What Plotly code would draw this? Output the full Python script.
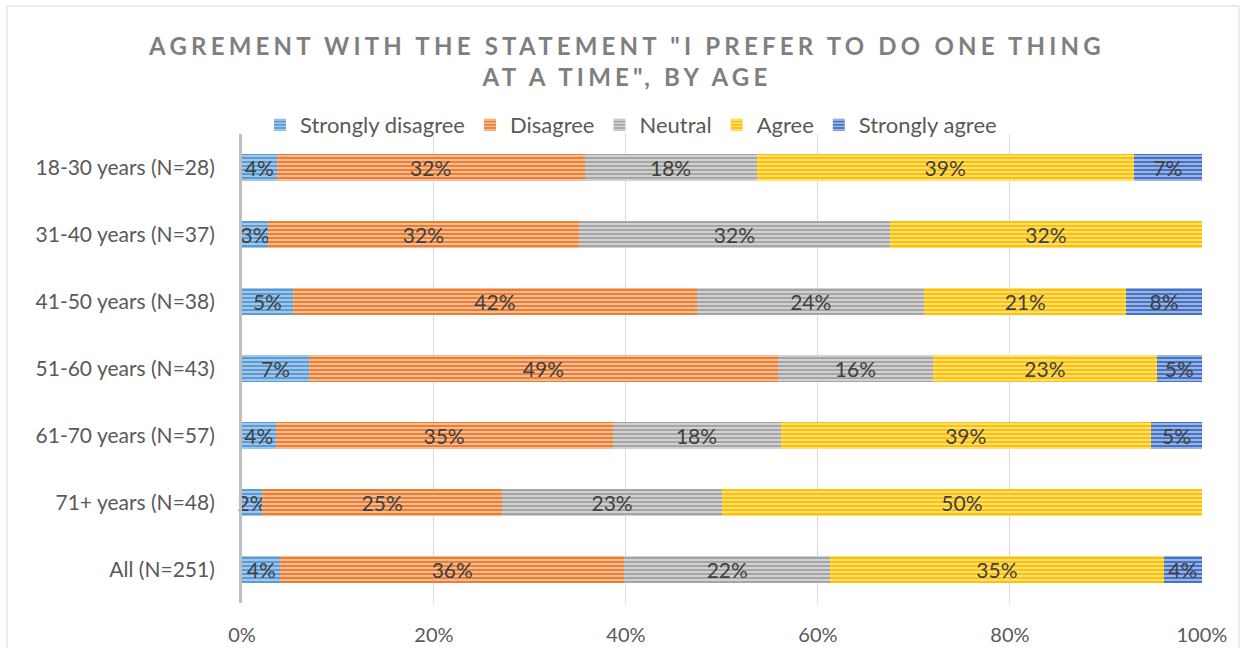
import plotly.graph_objects as go

# Share of respondents (%) per answer, by age group
age_groups = [
    "18-30 years (N=28)",
    "31-40 years (N=37)",
    "41-50 years (N=38)",
    "51-60 years (N=43)",
    "61-70 years (N=57)",
    "71+ years (N=48)",
    "All (N=251)",
]
strongly_disagree = [3.6, 2.7, 5.3, 7.0, 3.5, 2.1, 4.0]
disagree = [32.1, 32.4, 42.1, 48.8, 35.1, 25.0, 35.8]
neutral = [17.9, 32.4, 23.7, 16.2, 17.5, 22.9, 21.5]
agree = [39.3, 32.5, 21.0, 23.3, 38.6, 50.0, 34.7]
strongly_agree = [7.1, 0.0, 7.9, 4.7, 5.3, 0.0, 4.0]
x_ticks = [0, 20, 40, 60, 80, 100]

series = [
    ("Strongly disagree", strongly_disagree, "#5B9BD5", "#A9CCEC"),
    ("Disagree", disagree, "#ED7D31", "#F8C4A2"),
    ("Neutral", neutral, "#A5A5A5", "#D6D6D6"),
    ("Agree", agree, "#FFC000", "#FFE38A"),
    ("Strongly agree", strongly_agree, "#4472C4", "#A6BCE6"),
]

FONT = "Lato"
TEXT_GREY = "#595959"

W, H = 1244, 648
ML, MR, MT, MB = 242, 42, 134, 45
PW, PH = W - ML - MR, H - MT - MB

fig = go.Figure()
for name, vals, base, stripe in series:
    fig.add_trace(go.Bar(
        y=age_groups,
        x=vals,
        name=name,
        orientation="h",
        marker=dict(
            color=base,
            line=dict(width=0),
            pattern=dict(shape="-", bgcolor=base, fgcolor=stripe,
                         size=4, solidity=0.45, fillmode="replace"),
        ),
        text=[f"{v:.0f}%" if v > 0 else "" for v in vals],
        textposition="inside",
        insidetextanchor="middle",
        constraintext="none",
        textangle=0,
        cliponaxis=False,
        textfont=dict(family=FONT, size=21, color="#404040"),
        hoverinfo="skip",
    ))

fig.update_layout(
    width=W, height=H,
    barmode="stack",
    bargap=0.6,
    paper_bgcolor="white",
    plot_bgcolor="white",
    margin=dict(l=ML, r=MR, t=MT, b=MB, autoexpand=False),
    font=dict(family=FONT, size=20, color=TEXT_GREY),
    title=dict(
        text="AGREMENT WITH THE STATEMENT \"I PREFER TO DO ONE THING<br>AT A TIME\", BY AGE",
        x=627 / W, xref="container", xanchor="center",
        y=1 - 55 / H, yref="container", yanchor="middle",
        font=dict(family=FONT, size=24, color="#7F7F7F", weight="bold"),
    ),
    legend=dict(
        orientation="h",
        xref="paper", yref="paper",
        x=(631 - ML) / PW, xanchor="center",
        y=1 + (MT - 125) / PH, yanchor="middle",
        font=dict(family=FONT, size=22, color=TEXT_GREY),
        itemwidth=30,
        traceorder="normal",
        bgcolor="rgba(0,0,0,0)",
    ),
    xaxis=dict(
        range=[0, 100.01],
        tickmode="array",
        tickvals=x_ticks,
        ticktext=[f"{t}%" for t in x_ticks],
        showgrid=True,
        gridcolor="#D9D9D9",
        gridwidth=1,
        zeroline=False,
        showline=False,
        ticks="",
        ticklabelstandoff=18,
        tickfont=dict(family=FONT, size=20, color=TEXT_GREY),
        fixedrange=True,
    ),
    yaxis=dict(
        categoryorder="array",
        categoryarray=age_groups,
        autorange="reversed",
        showline=True,
        linecolor="#BFBFBF",
        linewidth=3,
        showgrid=False,
        ticks="",
        ticklabelstandoff=20,
        tickfont=dict(family=FONT, size=21, color=TEXT_GREY),
        fixedrange=True,
    ),
    shapes=[dict(
        type="rect", xref="paper", yref="paper",
        x0=(7 - ML) / PW, x1=(1239 - ML) / PW,
        y0=-0.2, y1=(H - 6 - MB) / PH,
        line=dict(color="#D9D9D9", width=1),
        fillcolor="rgba(0,0,0,0)",
        layer="below",
    )],
)

# Widen the title's letter spacing once the plot is drawn
post = """
var s = document.querySelectorAll('.gtitle');
s.forEach(function(t){ t.style.letterSpacing = '4.2px'; });
"""

fig.write_html("out.html", post_script=post, config={"displayModeBar": False})
